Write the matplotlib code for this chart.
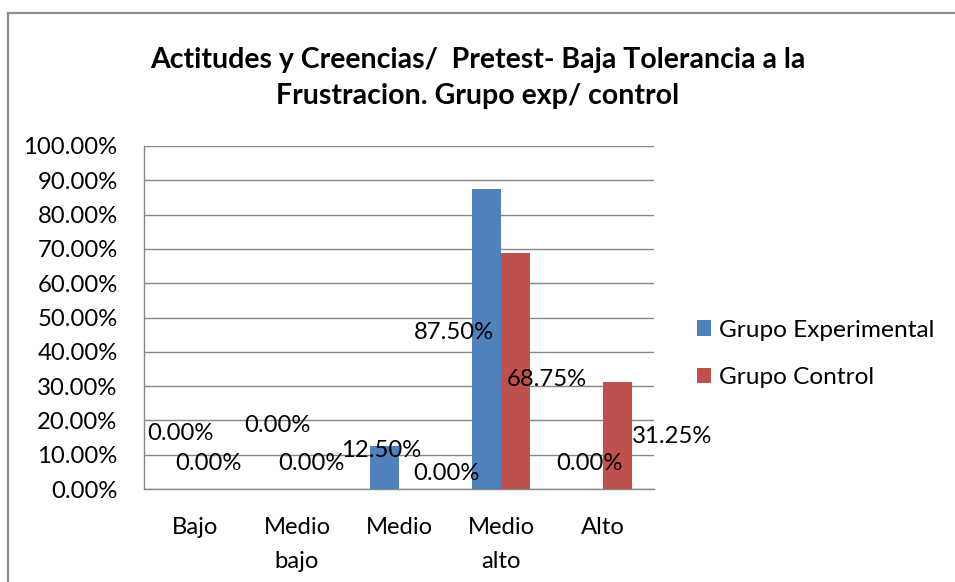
import matplotlib
matplotlib.use("Agg")

import matplotlib.pyplot as plt
from matplotlib.lines import Line2D
from matplotlib.ticker import FuncFormatter, MultipleLocator
import numpy as np

categories = ["Bajo", "Medio\nbajo", "Medio", "Medio\nalto", "Alto"]
grupo_experimental = [0.0, 0.0, 0.125, 0.875, 0.0]
grupo_control = [0.0, 0.0, 0.0, 0.6875, 0.3125]
series_names = ["Grupo Experimental", "Grupo Control"]
title = "Actitudes y Creencias/  Pretest- Baja Tolerancia a la\nFrustracion. Grupo exp/ control"

# label offsets from the top of each bar (pixels), mimicking where excel dropped them
exp_label_offsets = [(-0.5, 56), (-5.5, 64), (-3.5, -4), (-32.5, -144), (0.5, 26)]
ctrl_label_offsets = [(-1.5, 26), (-0.5, 26), (32.5, 16), (31.5, -126), (54.5, -55)]

BLUE = "#4F81BD"
RED = "#C0504D"
GRID = "#878787"
FONT = "Lato"
FS = 17.2

plt.rcParams["font.family"] = [FONT, "DejaVu Sans"]

W, H = 955, 582
fig = plt.figure(figsize=(W / 100, H / 100), dpi=100)
ax = fig.add_axes([144 / W, 1 - 489 / H, 510 / W, 343 / H])

x = np.arange(len(categories))
bw = 0.284
bars_exp = ax.bar(x - bw / 2, grupo_experimental, bw, color=BLUE, label=series_names[0], zorder=3)
bars_ctrl = ax.bar(x + bw / 2, grupo_control, bw, color=RED, label=series_names[1], zorder=3)

for bars, vals, offs in [(bars_exp, grupo_experimental, exp_label_offsets),
                         (bars_ctrl, grupo_control, ctrl_label_offsets)]:
    for b, v, (dx, dy) in zip(bars, vals, offs):
        ax.annotate(f"{v:.2%}", (b.get_x() + b.get_width() / 2, v),
                    xytext=(dx, dy), textcoords="offset pixels",
                    ha="center", va="center", fontsize=FS, color="black", zorder=4)

ax.set_xlim(-0.5, len(categories) - 0.5)
ax.set_ylim(0, 1)
ax.yaxis.set_major_locator(MultipleLocator(0.1))
ax.yaxis.set_major_formatter(FuncFormatter(lambda v, _: f"{v:.2%}"))
ax.set_xticks(x)
ax.set_xticklabels(categories, linespacing=1.75)
ax.tick_params(axis="both", length=0, labelsize=FS, colors="black")
ax.tick_params(axis="y", pad=19)
ax.tick_params(axis="x", pad=20)
for lbl in ax.get_xticklabels():
    lbl.set_verticalalignment("top")

ax.grid(axis="y", color=GRID, linewidth=1.0, zorder=0)
ax.set_axisbelow(True)
for side in ["top", "right"]:
    ax.spines[side].set_visible(False)
for side in ["left", "bottom"]:
    ax.spines[side].set_color(GRID)
    ax.spines[side].set_linewidth(1.0)

ax.legend(loc="center left", bbox_to_anchor=(697 / W, 1 - 354 / H), bbox_transform=fig.transFigure,
          frameon=False, fontsize=17.6, handlelength=0.58, handleheight=0.58, handletextpad=0.3,
          labelspacing=1.1, borderpad=0, borderaxespad=0)

fig.text(0.5, 1 - 78 / H, title, ha="center", va="center", fontsize=20.5, fontweight="bold",
         linespacing=1.5, family=[FONT, "DejaVu Sans"])

# chart frame (only left and top edges fall inside the picture)
fig.add_artist(Line2D([8 / W, 8 / W], [-0.01, 1 - 13 / H], color="#8c8c8c", linewidth=1.6,
                      transform=fig.transFigure))
fig.add_artist(Line2D([8 / W, 1.01], [1 - 13 / H, 1 - 13 / H], color="#8c8c8c", linewidth=1.6,
                      transform=fig.transFigure))

fig.savefig("out.png", dpi=100)
plt.close(fig)
